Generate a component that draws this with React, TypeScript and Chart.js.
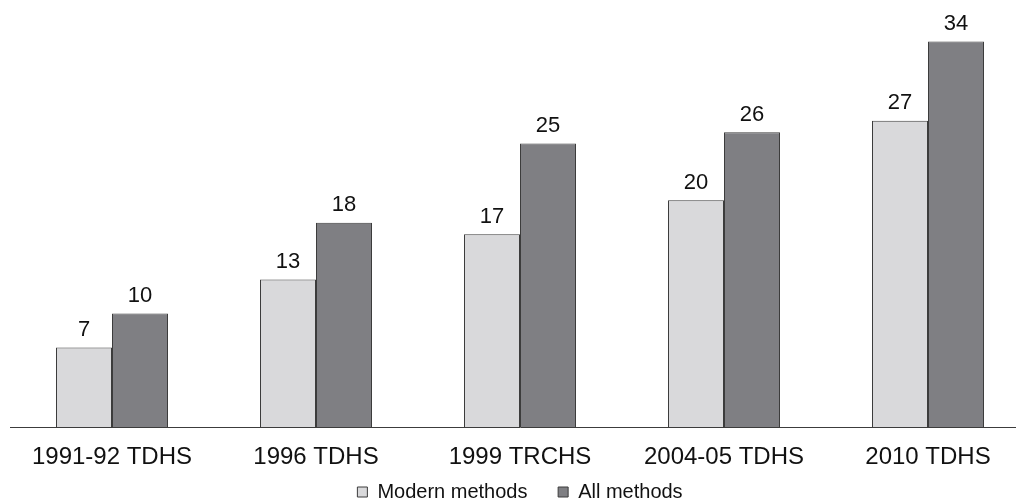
import React, { useEffect, useRef } from "react";
import { Chart, registerables } from "chart.js";

Chart.register(...registerables);

const categories = ["1991-92 TDHS", "1996 TDHS", "1999 TRCHS", "2004-05 TDHS", "2010 TDHS"];
const modernMethods = [7, 13, 17, 20, 27];
const allMethods = [10, 18, 25, 26, 34];
const seriesNames = ["Modern methods", "All methods"];

const FONT = "'Liberation Sans', Arial, sans-serif";

const valueLabels = {
  id: "valueLabels",
  afterDatasetsDraw(chart: any) {
    const ctx = chart.ctx;
    ctx.save();
    ctx.font = `22px ${FONT}`;
    ctx.fillStyle = "#111111";
    ctx.textAlign = "center";
    ctx.textBaseline = "alphabetic";
    chart.data.datasets.forEach((ds: any, di: number) => {
      const meta = chart.getDatasetMeta(di);
      meta.data.forEach((el: any, i: number) => {
        ctx.fillText(String(ds.data[i]), el.x, el.y - 11.5);
      });
    });
    ctx.restore();
  },
};

export default function App() {
  const ref = useRef<HTMLCanvasElement>(null);
  useEffect(() => {
    if (!ref.current) return;
    const chart = new Chart(ref.current, {
      type: "bar",
      data: {
        labels: categories,
        datasets: [
          {
            label: seriesNames[0],
            data: modernMethods,
            backgroundColor: "#d9d9db",
            borderColor: "#3c3c3c",
            borderWidth: 1,
            barPercentage: 1,
            categoryPercentage: 0.549,
          },
          {
            label: seriesNames[1],
            data: allMethods,
            backgroundColor: "#7f7f83",
            borderColor: "#3c3c3c",
            borderWidth: 1,
            barPercentage: 1,
            categoryPercentage: 0.549,
          },
        ],
      },
      options: {
        responsive: false,
        animation: false,
        layout: { padding: { left: 10, right: 10, top: 7.4, bottom: 0 } },
        plugins: {
          legend: {
            position: "bottom",
            labels: {
              boxWidth: 10,
              boxHeight: 10,
              padding: 10,
              color: "#111111",
              font: { family: FONT, size: 20 },
              generateLabels: (chart: any) => {
                const items = Chart.defaults.plugins.legend.labels.generateLabels(chart);
                items.forEach((it: any, i: number) => {
                  if (i < items.length - 1) it.text = it.text + "   \u2009";
                  it.lineWidth = 1;
                });
                return items;
              },
            },
          },
          tooltip: { enabled: false },
        },
        scales: {
          x: {
            grid: { display: false, drawTicks: false },
            border: { display: true, color: "#3c3c3c", width: 1 },
            ticks: {
              color: "#111111",
              font: { family: FONT, size: 24 },
              padding: 16,
              maxRotation: 0,
            },
            afterFit: (s: any) => {
              s.height = 45;
            },
          },
          y: {
            display: false,
            min: 0,
            max: 37,
          },
        },
      },
      plugins: [valueLabels],
    });
    return () => chart.destroy();
  }, []);
  return (
    <div style={{ position: "absolute", left: 0, top: 0, width: 1016, height: 501, overflow: "hidden", background: "#ffffff" }}>
      <canvas ref={ref} width={1040} height={512} style={{ display: "block" }} />
    </div>
  );
}
